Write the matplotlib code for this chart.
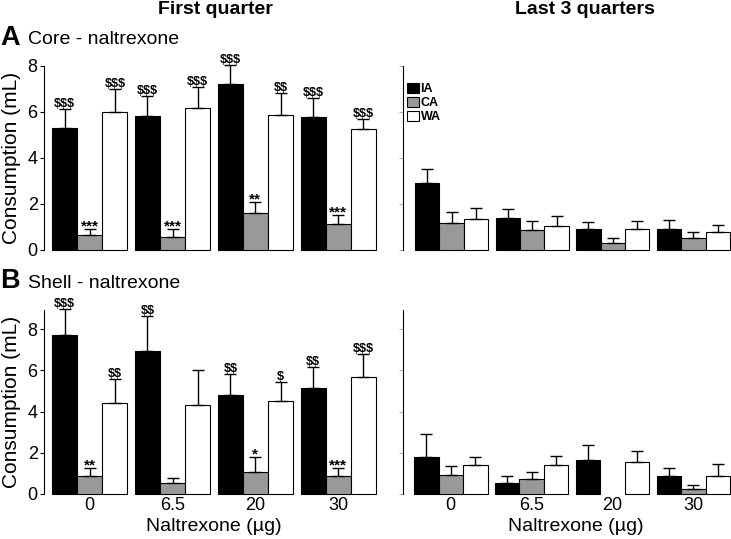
import numpy as np
import matplotlib
matplotlib.use('Agg')
import matplotlib.pyplot as plt
from matplotlib.patches import Patch

plt.rcParams['font.family'] = ['Liberation Sans', 'DejaVu Sans']
plt.rcParams['text.parse_math'] = False

doses = ['0', '6.5', '20', '30']
groups = ['IA', 'CA', 'WA']
colors = ['black', '#999999', 'white']

# rows: IA, CA, WA ; columns: naltrexone dose
core_q1_mean = [[5.31, 5.82, 7.20, 5.77],
                [0.64, 0.55, 1.63, 1.12],
                [6.01, 6.18, 5.85, 5.27]]
core_q1_sem = [[0.83, 0.87, 0.86, 0.83],
               [0.26, 0.35, 0.45, 0.42],
               [1.00, 0.92, 0.97, 0.43]]
core_q1_marks = [['$$$', '$$$', '$$$', '$$$'],
                 ['***', '***', '**', '***'],
                 ['$$$', '$$$', '$$', '$$$']]

core_q234_mean = [[2.91, 1.41, 0.90, 0.92],
                  [1.16, 0.87, 0.29, 0.54],
                  [1.34, 1.05, 0.90, 0.77]]
core_q234_sem = [[0.62, 0.38, 0.32, 0.39],
                 [0.48, 0.41, 0.25, 0.26],
                 [0.48, 0.42, 0.35, 0.31]]

shell_q1_mean = [[7.71, 6.95, 4.82, 5.13],
                 [0.87, 0.52, 1.06, 0.85],
                 [4.40, 4.34, 4.53, 5.69]]
shell_q1_sem = [[1.26, 1.68, 1.00, 1.02],
                [0.39, 0.25, 0.73, 0.42],
                [1.18, 1.68, 0.89, 1.12]]
shell_q1_marks = [['$$$', '$$', '$$', '$$'],
                  ['**', '', '*', '***'],
                  ['$$', '', '$', '$$$']]

shell_q234_mean = [[1.79, 0.53, 1.66, 0.85],
                   [0.90, 0.73, 0.00, 0.26],
                   [1.40, 1.39, 1.53, 0.89]]
shell_q234_sem = [[1.11, 0.32, 0.71, 0.39],
                  [0.44, 0.33, 0.00, 0.16],
                  [0.39, 0.46, 0.55, 0.56]]

W, H = 731, 539
fig = plt.figure(figsize=(W / 100, H / 100), dpi=100)


def add_ax(x0, x1, ytop, ybot):
    # pixel box -> figure fraction
    return fig.add_axes([x0 / W, 1 - ybot / H, (x1 - x0) / W, (ybot - ytop) / H])


pitch = 3.3  # group spacing, in bar widths
group_left = np.arange(len(doses)) * pitch


def draw_panel(ax, mean, sem, marks=None, ymax=8, xleft=-0.32, left_labels=True, xlabels=False):
    mean = np.asarray(mean)
    sem = np.asarray(sem)
    for i, g in enumerate(groups):
        x = group_left + 0.5 + i
        keep = mean[i] > 0
        ax.bar(x[keep], mean[i][keep], width=1.0, color=colors[i], edgecolor='black',
               linewidth=0.8, clip_on=False, zorder=2)
        ax.errorbar(x[keep], mean[i][keep], yerr=[np.zeros(keep.sum()), sem[i][keep]],
                    fmt='none', ecolor='black', elinewidth=1.0, capsize=4, capthick=1.0,
                    clip_on=False, zorder=3)
        if marks is not None:
            for j, m in enumerate(marks[i]):
                if not m:
                    continue
                top = mean[i][j] + sem[i][j]
                if '*' in m:
                    ax.annotate(m, (x[j], top), xytext=(0, -1), textcoords='offset points',
                                ha='center', va='baseline', fontsize=11, fontweight='bold',
                                annotation_clip=False)
                else:
                    ax.annotate(m, (x[j], top), xytext=(0, 1.5), textcoords='offset points',
                                ha='center', va='baseline', fontsize=9, fontweight='bold',
                                annotation_clip=False)
    ax.set_xlim(xleft, group_left[-1] + 3)
    ax.set_ylim(0, ymax)
    for s in ['top', 'right', 'bottom']:
        ax.spines[s].set_visible(False)
    ax.spines['left'].set_linewidth(0.8)
    ax.set_yticks([0, 2, 4, 6, 8])
    if left_labels:
        ax.tick_params(axis='y', direction='out', length=3, width=0.8, pad=1.5, labelsize=13)
    else:
        ax.tick_params(axis='y', direction='out', length=3, width=0.6, color='0.6',
                       labelleft=False)
    if xlabels:
        ax.set_xticks(group_left + 1.5)
        ax.set_xticklabels(doses)
        ax.tick_params(axis='x', length=0, pad=2.5, labelsize=13)
    else:
        ax.set_xticks([])


ax1 = add_ax(44, 376, 66, 250)
draw_panel(ax1, core_q1_mean, core_q1_sem, core_q1_marks)
ax1.set_ylabel('Consumption (mL)', fontsize=15)
ax1.yaxis.set_label_coords(-0.07, 0.5)

ax2 = add_ax(403, 730, 66, 250)
draw_panel(ax2, core_q234_mean, core_q234_sem, xleft=-0.49, left_labels=False)
handles = [Patch(facecolor=c, edgecolor='black', linewidth=0.8) for c in colors]
ax2.legend(handles, groups, loc='upper left', bbox_to_anchor=(-0.015, 0.955), frameon=False,
           prop={'size': 9, 'weight': 'bold'}, handlelength=0.95, handleheight=0.85,
           handletextpad=0.15, labelspacing=0.12, borderaxespad=0.3)

ax3 = add_ax(44, 376, 310, 494)
draw_panel(ax3, shell_q1_mean, shell_q1_sem, shell_q1_marks, ymax=8.93, xlabels=True)
ax3.set_ylabel('Consumption (mL)', fontsize=15)
ax3.yaxis.set_label_coords(-0.07, 0.5)
ax3.set_xlabel('Naltrexone (\u00b5g)', fontsize=14)
ax3.xaxis.set_label_coords(0.512, -0.13)

ax4 = add_ax(403, 730, 310, 494)
draw_panel(ax4, shell_q234_mean, shell_q234_sem, ymax=8.93, xleft=-0.45,
           left_labels=False, xlabels=True)
ax4.set_xlabel('Naltrexone (\u00b5g)', fontsize=14)
ax4.xaxis.set_label_coords(0.529, -0.13)

# column titles and panel labels
fig.text(215 / W, 1 - 10 / H, 'First quarter', ha='center', va='center',
         fontsize=14, fontweight='bold')
fig.text(585 / W, 1 - 10 / H, 'Last 3 quarters', ha='center', va='center',
         fontsize=14, fontweight='bold')
fig.text(0 / W, 1 - 45 / H, 'A', fontsize=19.5, fontweight='bold', va='baseline')
fig.text(28 / W, 1 - 44 / H, 'Core - naltrexone', fontsize=14, va='baseline')
fig.text(0 / W, 1 - 288 / H, 'B', fontsize=19.5, fontweight='bold', va='baseline')
fig.text(28 / W, 1 - 288 / H, 'Shell - naltrexone', fontsize=14, va='baseline')

fig.savefig('out.png', dpi=100)
